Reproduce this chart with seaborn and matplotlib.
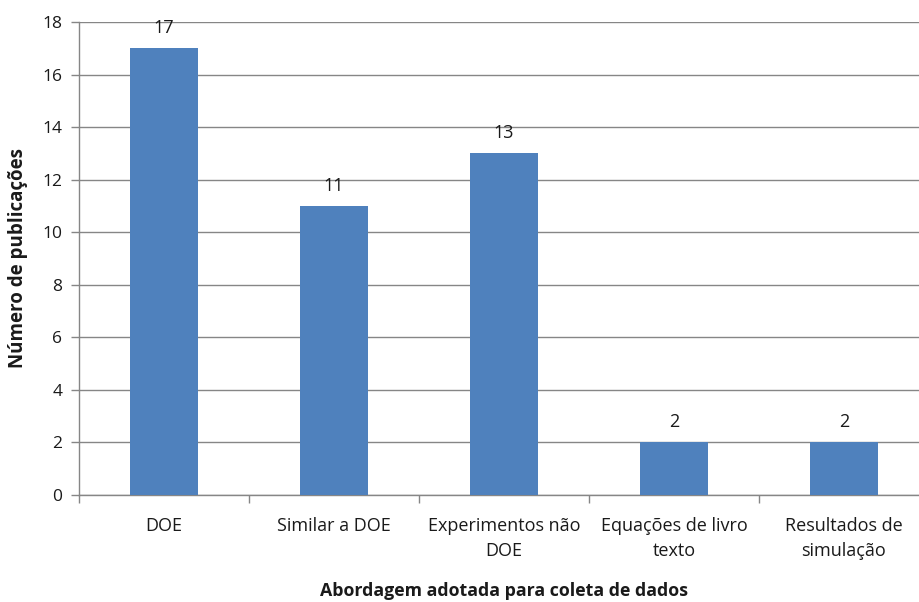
import matplotlib
matplotlib.use("Agg")
import matplotlib.pyplot as plt
from matplotlib.ticker import FixedLocator
import seaborn as sns
import pandas as pd

categories = ["DOE", "Similar a DOE", "Experimentos não\nDOE",
              "Equações de livro\ntexto", "Resultados de\nsimulação"]
publications = [17, 11, 13, 2, 2]
y_ticks = [0, 2, 4, 6, 8, 10, 12, 14, 16, 18]

sns.set_style("white")
plt.rcParams["font.family"] = ["Open Sans", "DejaVu Sans"]

df = pd.DataFrame({"category": categories, "count": publications})

fig = plt.figure(figsize=(9.19, 6.02), dpi=100)
ax = fig.add_axes([79 / 919, 107 / 602, 850 / 919, 473 / 602])

grid_color = "#868686"
text_color = "#1a1a1a"
sns.barplot(data=df, x="category", y="count", color="#4F81BD",
            saturation=1, width=0.4, linewidth=0, ax=ax, zorder=3)

ax.set_xlim(-0.5, len(categories) - 0.5)
ax.set_ylim(0, 18)
ax.yaxis.set_major_locator(FixedLocator(y_ticks))
ax.grid(axis="y", color=grid_color, linewidth=1.0, zorder=0)
ax.set_axisbelow(True)

for side in ("top", "right"):
    ax.spines[side].set_visible(False)
for side in ("left", "bottom"):
    ax.spines[side].set_color(grid_color)
    ax.spines[side].set_linewidth(1.0)

# category boundaries carry the tick marks on the x axis
ax.xaxis.set_minor_locator(FixedLocator([i - 0.5 for i in range(len(categories) + 1)]))
ax.tick_params(axis="x", which="major", length=0, pad=16, labelsize=13, colors=text_color)
ax.tick_params(axis="x", which="minor", length=6, width=1, color=grid_color, direction="out", bottom=True)
ax.tick_params(axis="y", which="major", length=6, width=1, color=grid_color, direction="out",
               left=True, labelsize=12.5, labelcolor=text_color, pad=6)
for lbl in ax.get_xticklabels():
    lbl.set_linespacing(1.45)

ax.set_xlabel("Abordagem adotada para coleta de dados", fontsize=12.8,
              fontweight="bold", labelpad=16, color=text_color)
ax.set_ylabel("Número de publicações", fontsize=13.5, fontweight="bold",
              labelpad=10, color=text_color)

for i, v in enumerate(publications):
    ax.annotate(str(v), xy=(i, v), xytext=(0, 8), textcoords="offset points",
                ha="center", va="bottom", fontsize=13, color=text_color)

fig.savefig("out.png", dpi=100)
